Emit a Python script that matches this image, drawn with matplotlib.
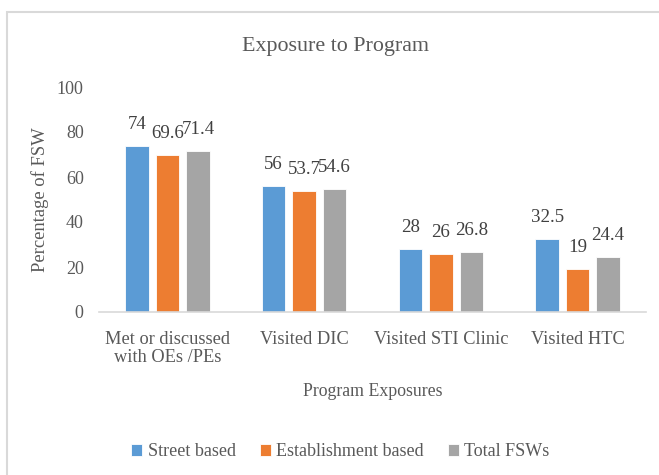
import matplotlib
matplotlib.use("Agg")
import matplotlib.pyplot as plt
import numpy as np
from matplotlib.patches import Rectangle

categories = ["Met or discussed\nwith OEs /PEs", "Visited DIC", "Visited STI Clinic", "Visited HTC"]
series_names = ["Street based", "Establishment based", "Total FSWs"]
street = [74, 56, 28, 32.5]
establishment = [69.6, 53.7, 26, 19]
total = [71.4, 54.6, 26.8, 24.4]
labels_street = ["74", "56", "28", "32.5"]
labels_est = ["69.6", "53.7", "26", "19"]
labels_total = ["71.4", "54.6", "26.8", "24.4"]
yticks = [0, 20, 40, 60, 80, 100]

colors = ["#5B9BD5", "#ED7D31", "#A5A5A5"]
text_color = "#595959"

plt.rcParams['font.family'] = ['Liberation Serif', 'DejaVu Serif']

fig = plt.figure(figsize=(6.59, 4.75), dpi=100)
# chart border
fig.patches.append(Rectangle((6.5/659, -0.1), 1.2, 1.1 - 12/475, transform=fig.transFigure,
                             fill=False, edgecolor="#D9D9D9", linewidth=1.5, zorder=0))

ax = fig.add_axes([99/659, 1 - 312/475, (646 - 99)/659, (312 - 87)/475])

x = np.arange(len(categories))
step = 0.223
width = 0.172
all_series = [street, establishment, total]
all_labels = [labels_street, labels_est, labels_total]
for i, (vals, labs) in enumerate(zip(all_series, all_labels)):
    pos = x + (i - 1) * step
    bars = ax.bar(pos, vals, width=width, color=colors[i], label=series_names[i],
                  edgecolor="white", linewidth=0.6, zorder=2)
    for b, lab in zip(bars, labs):
        ax.annotate(lab, (b.get_x() + b.get_width() / 2, b.get_height()),
                    xytext=(0, 12.2), textcoords="offset points",
                    ha="center", va="baseline", fontsize=13.6, color="#404040")

ax.set_xlim(-0.5, len(categories) - 0.5)
ax.set_ylim(0, 100)
ax.set_yticks(yticks)
ax.set_yticklabels([str(t) for t in yticks], fontsize=13, color=text_color)
ax.set_xticks(x)
ax.set_xticklabels(categories, fontsize=13.2, color=text_color, linespacing=1.12)
ax.tick_params(axis="both", length=0)
ax.tick_params(axis="y", pad=11)
ax.tick_params(axis="x", pad=13.5)
for s in ["top", "right", "left"]:
    ax.spines[s].set_visible(False)
ax.spines["bottom"].set_color("#D9D9D9")
ax.spines["bottom"].set_linewidth(1.2)

ax.set_ylabel("Percentage of FSW", fontsize=13.4, color=text_color)
ax.yaxis.label.set_va("center")
ax.yaxis.set_label_coords((40 - 99) / (646 - 99), 0.5)
ax.set_xlabel("Program Exposures", fontsize=12.8, color=text_color)
ax.xaxis.label.set_va("center")
ax.xaxis.set_label_coords(0.5, -(391 - 312) / (312 - 87))

fig.text((242.7 + 429) / 2 / 659, 1 - 46 / 475, "Exposure to Program", fontsize=15.8,
         color=text_color, ha="center", va="center")

leg = fig.legend(loc="center", bbox_to_anchor=(340.5 / 659, 1 - 452 / 475), ncol=3, frameon=False,
                 fontsize=13, handlelength=0.6, handleheight=0.6, handletextpad=0.3,
                 columnspacing=1.35, labelcolor=text_color)

fig.savefig("out.png", dpi=100)
